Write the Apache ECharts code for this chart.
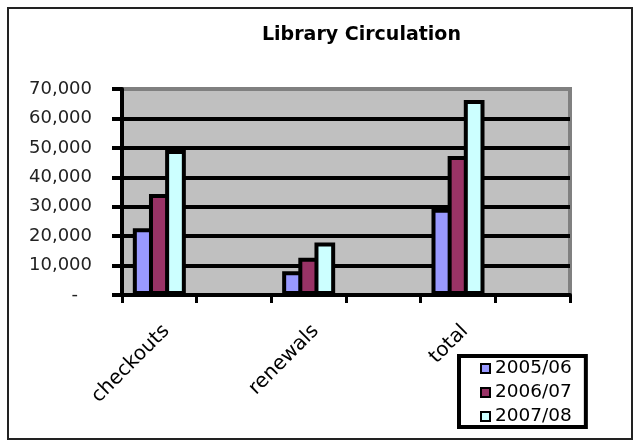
<!DOCTYPE html>
<html>
<head>
<meta charset="utf-8">
<script src="https://cdn.jsdelivr.net/npm/echarts@6/dist/echarts.min.js"></script>
<style>
  html, body { margin: 0; padding: 0; background: #fff; }
  #chart { width: 638px; height: 441px; }
</style>
</head>
<body>
<div id="chart"></div>
<script>
// categories on the x axis (each one followed by an empty slot, like the original sheet)
const categories = ["checkouts", "renewals", "total"];
const seriesNames = ["2005/06", "2006/07", "2007/08"];
const values0506 = [22700, 8100, 29300];
const values0607 = [34300, 12700, 47200];
const values0708 = [49300, 17800, 66300];
const barColors = ["#9999FF", "#993366", "#CCFFFF"];

const FONT = "DejaVu Sans";

// build 6 slots: category, blank, category, blank ...
const axisData = [];
categories.forEach((c) => {
  axisData.push(c);
  axisData.push("");
});
function spread(arr) {
  const out = [];
  arr.forEach((v) => {
    out.push(v);
    out.push(null);
  });
  return out;
}

const allValues = [values0506, values0607, values0708];
const series = seriesNames.map((name, i) => {
  return {
    name: name,
    type: "bar",
    // neighbouring bars share one black edge
    barGap: "-22%",
    barCategoryGap: "29%",
    itemStyle: {
      color: barColors[i],
      borderColor: "#000",
      borderWidth: 4,
    },
    data: spread(allValues[i]),
  };
});

const chart = echarts.init(document.getElementById("chart"), null, { renderer: "canvas" });
chart.setOption({
  animation: false,
  title: {
    text: "Library Circulation",
    left: 262,
    top: 26,
    padding: 0,
    textStyle: {
      fontFamily: FONT,
      fontWeight: "bold",
      fontSize: 19,
      color: "#000",
    },
  },
  legend: {
    orient: "vertical",
    left: 459,
    top: 356,
    padding: [3, 14, 1, 21],
    itemGap: 5,
    itemWidth: 9,
    itemHeight: 9,
    icon: "rect",
    borderColor: "#000",
    borderWidth: 4,
    backgroundColor: "#fff",
    textStyle: {
      fontFamily: FONT,
      fontSize: 18.5,
      color: "#000",
    },
    data: seriesNames,
  },
  grid: {
    left: 122,
    top: 89,
    right: 68,
    bottom: 146,
    show: true,
    backgroundColor: "#C0C0C0",
    borderColor: "#808080",
    borderWidth: 4,
  },
  xAxis: {
    type: "category",
    data: axisData,
    boundaryGap: true,
    axisLine: { lineStyle: { color: "#000", width: 4 } },
    axisTick: {
      show: true,
      length: 8,
      lineStyle: { color: "#000", width: 3 },
    },
    axisLabel: {
      interval: 0,
      rotate: 45,
      margin: 26,
      align: "right",
      verticalAlign: "top",
      fontFamily: FONT,
      fontSize: 20,
      color: "#000",
    },
  },
  yAxis: {
    type: "value",
    min: 0,
    max: 70000,
    interval: 10000,
    axisLine: { show: true, lineStyle: { color: "#000", width: 4 } },
    axisTick: {
      show: true,
      length: 10,
      lineStyle: { color: "#000", width: 4 },
    },
    splitLine: {
      show: true,
      lineStyle: {
        color: ["#000", "#000", "#000", "#000", "#000", "#000", "#000", "#808080"],
        width: 4,
      },
    },
    axisLabel: {
      margin: 30,
      fontFamily: FONT,
      fontSize: 18,
      color: "#222",
      formatter: function (value) {
        if (value === 0) return "{dash|-}";
        return value.toLocaleString("en-US");
      },
      rich: {
        dash: {
          fontFamily: FONT,
          fontSize: 18,
          color: "#222",
          padding: [0, 14, 0, 0],
        },
      },
    },
  },
  graphic: [
    {
      type: "rect",
      shape: { x: 8, y: 8, width: 624, height: 431 },
      style: { fill: null, stroke: "#222", lineWidth: 2 },
      silent: true,
      z: 100,
    },
  ],
  series: series,
});
</script>
</body>
</html>
